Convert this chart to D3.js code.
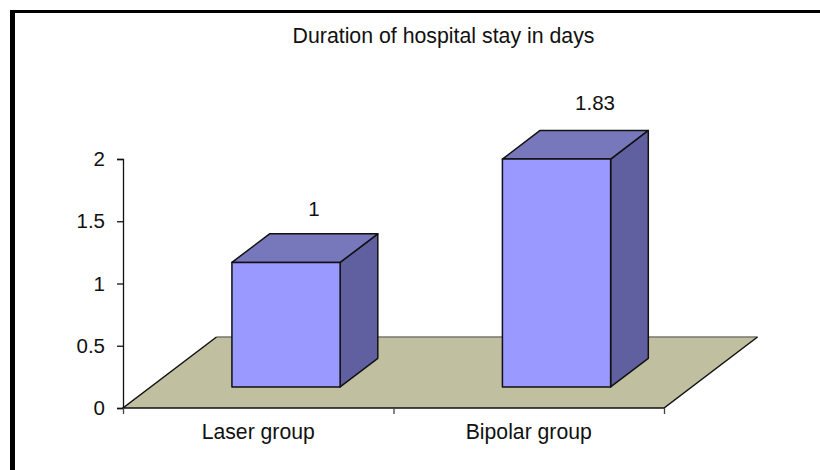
<!DOCTYPE html>
<html>
<head>
<meta charset="utf-8">
<script src="https://cdn.jsdelivr.net/npm/d3@7"></script>
<style>
html,body{margin:0;padding:0;background:#fff}
svg{display:block}
text{font-family:"Liberation Sans",Arial,sans-serif;fill:#111}
</style>
</head>
<body>
<svg id="c" width="820" height="470"></svg>
<script>
const chartTitle = "Duration of hospital stay in days";
const categories = ["Laser group", "Bipolar group"];
const values = [1, 1.83];
const valueLabels = ["1", "1.83"];
const yTicks = [0, 0.5, 1, 1.5, 2];

const fontSize = 20.5, titleSize = 21.3, catSize = 21.2;
const svg = d3.select("#c");

// page frame (top and left edges only)
svg.append("rect").attr("x", 10).attr("y", 10).attr("width", 810).attr("height", 3).attr("fill", "#000");
svg.append("rect").attr("x", 10).attr("y", 10).attr("width", 5).attr("height", 460).attr("fill", "#000");

const x = d3.scaleBand().domain(categories).range([123, 664]).paddingInner(0).paddingOuter(0);
const y = d3.scaleLinear().domain([0, 2]).range([408, 159]);
// data labels float at their own offsets above the 3D bars
const labelX = d3.scalePoint().domain(categories).range([314, 595]);
const labelY = d3.scaleLinear().domain([1, 1.83]).range([216, 110]);

// oblique depth vector of the floor, and the fractions used by the bars
const depthX = 93.5, depthY = 71;
const barFrontInset = 0.297, barBackInset = 0.70, barWidthFrac = 0.4;
const proj = (px, py, t) => [px + depthX * t, py - depthY * t];
const poly = pts => pts.map(p => p.join(",")).join(" ");

const stroke = "#111";
// floor
const x0 = x.range()[0], x1 = x.range()[1], y0 = y(0);
svg.append("polygon")
  .attr("points", poly([proj(x0, y0, 0), proj(x1, y0, 0), proj(x1, y0, 1), proj(x0, y0, 1)]))
  .attr("fill", "#c0c0a0").attr("stroke", "none");
svg.append("line").attr("x1", proj(x0,y0,1)[0]).attr("y1", proj(x0,y0,1)[1]).attr("x2", proj(x1,y0,1)[0]).attr("y2", proj(x1,y0,1)[1])
  .attr("stroke", "#77776a").attr("stroke-width", 1.3);
svg.append("path")
  .attr("d", d3.line()([proj(x0,y0,1), proj(x0,y0,0), proj(x1,y0,0), proj(x1,y0,1)]))
  .attr("fill", "none").attr("stroke", stroke).attr("stroke-width", 1.5);

// axes
const axisL = d3.axisLeft(y).tickValues(yTicks).tickSize(6).tickPadding(12).tickFormat(d3.format("~g"));
const gy = svg.append("g").attr("transform", `translate(${x0},0)`).call(axisL);
gy.selectAll("path,line").attr("stroke", stroke).attr("stroke-width", 1.3);
gy.selectAll("text").attr("font-size", fontSize).attr("font-family", "Liberation Sans").attr("fill", "#111");

const edgeScale = d3.scaleLinear().domain([0, categories.length]).range(x.range());
const axisB = d3.axisBottom(edgeScale).tickValues(d3.range(categories.length + 1)).tickSize(6).tickFormat("");
const gx = svg.append("g").attr("transform", `translate(0,${y0})`).call(axisB);
gx.select("path").remove();
gx.selectAll("line").attr("stroke", "#444").attr("stroke-width", 1.3);

svg.selectAll("text.cat").data(categories).join("text").attr("class", "cat")
  .attr("x", d => x(d) + x.bandwidth() / 2).attr("y", 439)
  .attr("text-anchor", "middle").attr("font-size", catSize).text(d => d);

// bars
const w = x.bandwidth() * barWidthFrac;
const rows = categories.map((c, i) => ({c, v: values[i], label: valueLabels[i]}));
const groups = svg.selectAll("g.bar").data(rows).join("g").attr("class", "bar");
groups.each(function(d) {
  const g = d3.select(this);
  const left = x(d.c) + (x.bandwidth() - w) / 2;
  const right = left + w;
  const h = y(0) - y(d.v);
  const fb = proj(left, y0, barFrontInset), fr = proj(right, y0, barFrontInset);
  const bb = proj(left, y0, barBackInset), br = proj(right, y0, barBackInset);
  const up = p => [p[0], p[1] - h];
  const attrs = s => s.attr("stroke", stroke).attr("stroke-width", 1.5).attr("stroke-linejoin", "round");
  g.append("polygon").attr("points", poly([fr, br, up(br), up(fr)])).attr("fill", "#6060a0").call(attrs);
  g.append("polygon").attr("points", poly([up(fb), up(fr), up(br), up(bb)])).attr("fill", "#7777bb").call(attrs);
  g.append("polygon").attr("points", poly([fb, fr, up(fr), up(fb)])).attr("fill", "#9999ff").call(attrs);
  g.append("text").attr("x", labelX(d.c)).attr("y", labelY(d.v))
    .attr("text-anchor", "middle").attr("font-size", fontSize).text(d.label);
});

svg.append("text").attr("x", 443.5).attr("y", 43).attr("text-anchor", "middle").attr("font-size", titleSize).text(chartTitle);
</script>
</body>
</html>
